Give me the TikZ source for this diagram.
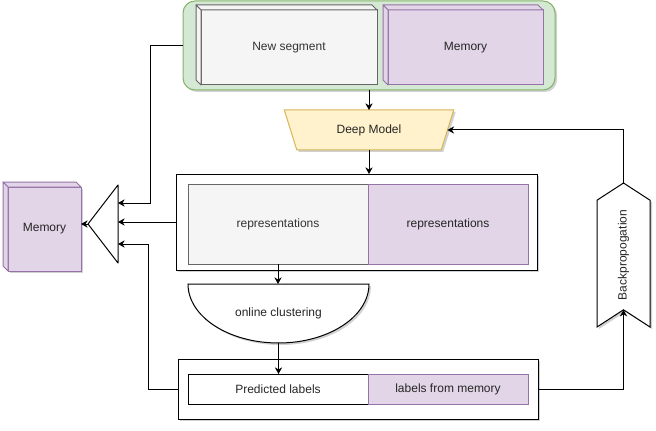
\documentclass[tikz,border=0pt]{standalone}
\usepackage{fontspec}
\setmainfont{Liberation Sans}
\usetikzlibrary{arrows.meta,positioning,calc,shapes.geometric,shapes.symbols,shadows,backgrounds}
\definecolor{cGreenBg}{HTML}{D5E8D4}
\definecolor{cGreenLn}{HTML}{82B366}
\definecolor{cPurpBg}{HTML}{E1D5E7}
\definecolor{cPurpLn}{HTML}{9673A6}
\definecolor{cGrayBg}{HTML}{F5F5F5}
\definecolor{cGrayLn}{HTML}{666666}
\definecolor{cGrayTx}{HTML}{333333}
\definecolor{cYelBg}{HTML}{FFF2CC}
\definecolor{cYelLn}{HTML}{D6B656}
\tikzset{
	dshadow/.style={drop shadow={shadow xshift=1.5pt,shadow yshift=-1.5pt,
		opacity=0.18,fill=black}},
	base/.style={line width=0.75pt, inner sep=0pt, outer sep=0pt,
		align=center, font=\fontsize{9}{11}\selectfont, text=black!85},
	graybox/.style={base, draw=cGrayLn, fill=cGrayBg, text=cGrayTx},
	purpbox/.style={base, draw=cPurpLn, fill=cPurpBg},
	plainbox/.style={base, draw=black, fill=white},
	greenbox/.style={base, draw=cGreenLn, fill=cGreenBg, rounded corners=9pt, dshadow},
	modelbox/.style={base, draw=cYelLn, fill=cYelBg, trapezium, trapezium angle=63.4,
		shape border rotate=180, trapezium stretches=true, dshadow},
	ghost/.style={base, draw=none, fill=none},
	arr/.style={-{Stealth[length=5pt,width=5.5pt]}, line width=0.75pt},
}
\begin{document}
\begin{tikzpicture}[x=0.75pt,y=-0.75pt]
\useasboundingbox (0,0) rectangle (656,431);
% input: new segment + memory
\node[greenbox, minimum width=279pt, minimum height=66.75pt] (inbox) at (369,45.5) {};
\node[graybox, minimum width=132pt, minimum height=56.25pt] (seg) at (289,47.5) {New segment};
\node[purpbox, minimum width=116.25pt, minimum height=56.25pt] (mem) at (465.5,47.5) {Memory};
\node[purpbox, minimum width=54.75pt, minimum height=63pt, dshadow] (memL) at (44.5,229) {Memory};
\foreach \n/\f/\l in {seg/cGrayBg/cGrayLn, mem/cPurpBg/cPurpLn, memL/cPurpBg/cPurpLn}{
	\filldraw[fill=\f, draw=\l, line width=0.75pt, line join=round]
		(\n.north west) -- ++(-5,-5) -- ($(\n.north east)+(-5,-5)$) -- (\n.north east) -- cycle;
	\filldraw[fill=\f, draw=\l, line width=0.75pt, line join=round]
		(\n.north west) -- ++(-5,-5) -- ($(\n.south west)+(-5,-5)$) -- (\n.south west) -- cycle;
}
% model
\node[modelbox, minimum width=127.5pt, minimum height=30pt] (dm) at (369,130) {Deep Model};
% representations
\node[plainbox, minimum width=270.75pt, minimum height=72pt, dshadow] (repout) at (356.5,222) {};
\node[graybox, minimum width=135pt, minimum height=60pt] (rep1) at (278,224) {representations};
\node[purpbox, minimum width=120pt, minimum height=60pt, right=0pt of rep1] (rep2) {representations};
% clustering
\node[ghost, minimum width=135.75pt, minimum height=44.25pt] (clus) at (278.5,313.5) {online clustering};
\begin{scope}[on background layer]
	\filldraw[draw=black, fill=white, line width=0.75pt, dshadow]
		(clus.north east) arc[start angle=0, end angle=180, x radius=90.5, y radius=59] -- cycle;
\end{scope}
% labels
\node[plainbox, minimum width=270pt, minimum height=45pt, dshadow] (labout) at (358,389) {};
\node[plainbox, minimum width=135pt, minimum height=22.5pt] (pred) at (278,389) {Predicted labels};
\node[purpbox, minimum width=120pt, minimum height=22.5pt, right=0pt of pred] (lmem) {labels from memory};
% memory update
\node[ghost, minimum width=22.5pt, minimum height=58.5pt] (tri) at (103,224) {};
\draw[line width=0.75pt, line join=round] (tri.north east) -- (tri.west) -- (tri.south east) -- cycle;
% backprop
\node[base, draw=black, fill=white, signal, signal to=east, signal from=west,
	signal pointer angle=114, rotate=90, minimum width=108pt, minimum height=39.75pt,
	dshadow] (bp) at (623.5,255) {Backpropogation};

\draw[arr] (inbox.south) -- (inbox.south |- dm.north);
\draw[arr] (dm.south) -- (dm.south |- repout.north);
\draw[arr] (rep1.south) -- (rep1.south |- clus.north);
\draw[arr] (clus.south) -- (clus.south |- pred.north);
\draw[arr] (inbox.west) -- ++(-33,0) |- ($(tri.east)+(0,-21)$);
\draw[arr] (repout.west) -- (repout.west -| tri.east);
\draw[arr] (labout.west) -- ++(-30,0) |- ($(tri.east)+(0,20)$);
\draw[arr] (tri.west) -- (tri.west -| memL.east);
\draw[arr] (labout.east) -| (bp.west);
\draw[arr] (bp.east) |- (dm.east);
\end{tikzpicture}
\end{document}
